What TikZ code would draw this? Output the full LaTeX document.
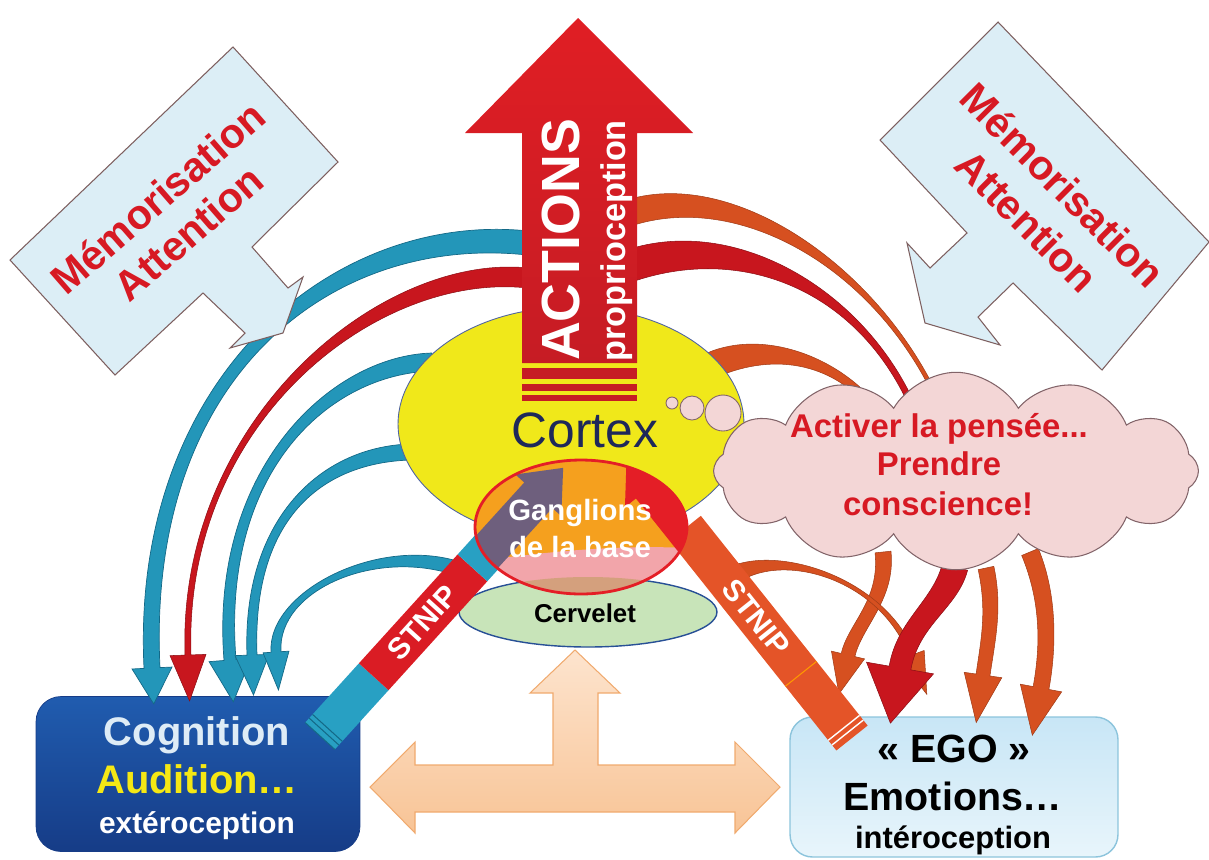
\documentclass[tikz,border=0pt]{standalone}
\usepackage{fontspec}
\setmainfont{Liberation Sans}
\usetikzlibrary{calc,shapes.geometric,shapes.symbols}

\definecolor{actred}{RGB}{224,30,36}
\definecolor{actdark}{RGB}{198,28,36}
\definecolor{cortexY}{RGB}{240,232,26}
\definecolor{cortexLine}{RGB}{80,100,160}
\definecolor{navyT}{RGB}{30,40,90}
\definecolor{gangOr}{RGB}{245,160,30}
\definecolor{gangRed}{RGB}{228,30,38}
\definecolor{purp}{RGB}{110,95,125}
\definecolor{pinkb}{RGB}{242,165,170}
\definecolor{brownb}{RGB}{212,160,125}
\definecolor{cerv}{RGB}{200,228,185}
\definecolor{cervLine}{RGB}{40,80,150}
\definecolor{tealF}{RGB}{35,150,185}
\definecolor{tealD}{RGB}{20,105,135}
\definecolor{arcRed}{RGB}{200,22,30}
\definecolor{arcOr}{RGB}{214,80,32}
\definecolor{stnipRed}{RGB}{218,28,36}
\definecolor{stnipOr}{RGB}{228,84,40}
\definecolor{stnipTeal}{RGB}{40,160,195}
\definecolor{cogTop}{RGB}{32,92,175}
\definecolor{cogBot}{RGB}{22,60,135}
\definecolor{audY}{RGB}{245,232,20}
\definecolor{cogW}{RGB}{222,236,246}
\definecolor{egoTop}{RGB}{200,230,246}
\definecolor{egoBot}{RGB}{232,245,251}
\definecolor{egoLine}{RGB}{140,196,220}
\definecolor{callF}{RGB}{220,238,246}
\definecolor{callL}{RGB}{125,95,95}
\definecolor{txtRed}{RGB}{215,25,35}
\definecolor{cloudF}{RGB}{243,214,214}
\definecolor{cloudL}{RGB}{130,100,105}
\definecolor{peachT}{RGB}{253,228,206}
\definecolor{peachB}{RGB}{248,196,150}
\definecolor{peachL}{RGB}{240,170,110}

\newcommand{\setfs}[1]{\fontsize{#1}{#1}\selectfont}

% tapered band set-up: S, C1, C2, E, width start (px), width end (px)
\newcommand{\tsetup}[6]{%
  \pgfmathsetmacro\twa{#5*0.01}%
  \pgfmathsetmacro\twb{#6*0.01}%
  \coordinate (tS) at #1;
  \coordinate (tA) at #2;
  \coordinate (tB) at #3;
  \coordinate (tE) at #4;
  \coordinate (tS1) at ($(tS)!\twa cm!90:(tA)$);
  \coordinate (tS2) at ($(tS)!\twa cm!-90:(tA)$);
  \coordinate (tE1) at ($(tE)!\twb cm!-90:(tB)$);
  \coordinate (tE2) at ($(tE)!\twb cm!90:(tB)$);
  \coordinate (tA1) at ($(tA)+(tS1)-(tS)$);
  \coordinate (tA2) at ($(tA)+(tS2)-(tS)$);
  \coordinate (tB1) at ($(tB)+(tE1)-(tE)$);
  \coordinate (tB2) at ($(tB)+(tE2)-(tE)$);
}
% style, S, C1, C2, E, w1, w2, head half width, head length
\newcommand{\tarrow}[9]{%
  \tsetup{#2}{#3}{#4}{#5}{#6}{#7}%
  \pgfmathsetmacro\thh{#8*0.02}%
  \pgfmathsetmacro\thl{#9*0.02}%
  \coordinate (tH1) at ($(tE)!\thh cm!-90:(tB)$);
  \coordinate (tH2) at ($(tE)!\thh cm!90:(tB)$);
  \coordinate (tT) at ($(tE)!-\thl cm!(tB)$);
  \path[#1] (tS1) .. controls (tA1) and (tB1) .. (tE1) -- (tH1) -- (tT) -- (tH2) -- (tE2) .. controls (tB2) and (tA2) .. (tS2) -- cycle;
}
% style, S, C1, C2, E, w1, w2
\newcommand{\tband}[7]{%
  \tsetup{#2}{#3}{#4}{#5}{#6}{#7}%
  \path[#1] (tS1) .. controls (tA1) and (tB1) .. (tE1) -- (tE2) .. controls (tB2) and (tA2) .. (tS2) -- cycle;
}

\tikzset{
  tealS/.style={fill=tealF, draw=tealD, line width=0.4pt},
  redS/.style={fill=arcRed, draw=arcRed!70!black, line width=0.3pt},
  orS/.style={fill=arcOr, draw=arcOr!75!black, line width=0.3pt},
  callout/.style={fill=callF, draw=callL, line width=0.6pt},
  calltextL/.style={font=\bfseries\fontsize{23.5}{26.6}\selectfont, align=center, text=txtRed},
  calltextR/.style={font=\bfseries\fontsize{23.5}{28.9}\selectfont, align=center, text=txtRed},
}

\begin{document}
\begin{tikzpicture}[x=0.02cm, y=-0.02cm, every node/.style={inner sep=0pt, outer sep=0pt}]
\useasboundingbox (0,0) rectangle (1209,859);

% ---------- boxes ----------
\node[rounded corners=0.5cm, top color=cogTop, bottom color=cogBot, draw=cogBot, line width=0.4pt,
      minimum width=6.48cm, minimum height=3.1cm] (cog) at (198,774) {};
\node[font=\bfseries\setfs{22.7}, text=cogW, anchor=base] (cogT1) at (197,745) {Cognition};
\node[font=\bfseries\setfs{22.7}, text=audY, anchor=base] (cogT2) at (197,793) {Audition…};
\node[font=\bfseries\setfs{17}, text=white, anchor=base] (cogT3) at (197,833) {extéroception};

\node[rounded corners=0.45cm, top color=egoTop, bottom color=egoBot, draw=egoLine, line width=0.8pt,
      minimum width=6.56cm, minimum height=2.8cm] (ego) at (954,787) {};
\node[font=\bfseries\setfs{22.4}, anchor=base] (egoT1) at (954,762) {« EGO »};
\node[font=\bfseries\setfs{22.4}, anchor=base] (egoT2) at (953,810) {Emotions…};
\node[font=\bfseries\setfs{17.6}, anchor=base] (egoT3) at (953,848) {intéroception};

% ---------- left curved arrows ----------
\tarrow{tealS}{(528,243)}{(330,222)}{(138,380)}{(152,668)}{24}{16}{20}{36}
\tarrow{redS}{(528,278)}{(380,262)}{(180,420)}{(188,655)}{20}{6}{18}{46}
\tarrow{tealS}{(432,362)}{(330,365)}{(215,470)}{(230,660)}{18}{12}{21}{42}
\tarrow{tealS}{(410,452)}{(320,455)}{(247,520)}{(252,655)}{16}{10}{17}{40}
\tarrow{tealS}{(462,570)}{(380,540)}{(272,590)}{(276,652)}{14}{10}{13}{38}

% ---------- right curved arrows ----------
\tband{orS}{(632,212)}{(740,180)}{(880,270)}{(940,405)}{26}{4}
\tband{redS}{(632,265)}{(740,230)}{(860,290)}{(912,405)}{32}{6}
\tband{orS}{(712,365)}{(770,340)}{(840,360)}{(880,415)}{26}{8}

\tarrow{orS}{(883,552)}{(888,600)}{(855,625)}{(848,655)}{16}{14}{17}{40}
\tarrow{orS}{(986,568)}{(995,610)}{(988,640)}{(983,675)}{16}{14}{19}{48}
\tarrow{orS}{(1030,552)}{(1050,600)}{(1048,650)}{(1041,688)}{18}{16}{21}{48}
\tarrow{orS}{(718,588)}{(755,540)}{(880,570)}{(912,655)}{20}{6}{13}{42}
\tarrow{redS}{(955,567)}{(945,605)}{(908,622)}{(900,668)}{26}{22}{34}{56}

% ---------- callouts ----------
\draw[callout] (233,47) -- (338,162) -- (252,247) -- (288,288) -- (303,277) -- (283,333)
  -- (230,348) -- (245,333) -- (203,293) -- (115,375) -- (10,260) -- cycle;
\node[calltextL, rotate=41] (memL) at (173,215) {Mémorisation\\Attention};

\draw[callout] (880,140) -- (998,22) -- (1209,242) -- (1102,370) -- (1013,283) -- (978,317)
  -- (1000,345) -- (925,323) -- (907,243) -- (930,268) -- (967,233) -- cycle;
\node[calltextR, rotate=-45] (memR) at (1045,203) {Mémorisation\\Attention};

% ---------- cortex ----------
\node[ellipse, draw=cortexLine, fill=cortexY, line width=0.5pt,
      minimum width=6.92cm, minimum height=4.68cm] (cortex) at (571,424) {};
\node[font=\setfs{28.3}, text=navyT] (cortexT) at (585,430) {Cortex};

% ---------- ACTIONS arrow ----------
\path[top color=actred, bottom color=actdark] (578,18) -- (693,133) -- (637,133) -- (637,363)
  -- (522,363) -- (522,133) -- (465,133) -- cycle;
\fill[actdark] (522,368) rectangle (637,379);
\fill[actdark] (522,384) rectangle (637,391);
\fill[actdark] (522,395) rectangle (637,401);
\node[font=\bfseries\setfs{30.6}, text=white, rotate=90] (actions) at (561,240) {ACTIONS};
\node[font=\bfseries\setfs{19.5}, text=white, rotate=90] (propr) at (617,241) {proprioception};

% ---------- cervelet ----------
\node[ellipse, draw=cervLine, fill=cerv, line width=0.8pt,
      minimum width=5.16cm, minimum height=1.4cm] (cerv) at (588,612) {};
\node[font=\bfseries\setfs{14.7}, anchor=base] (cervT) at (585,622) {Cervelet};

% ---------- STNIP bands ----------
\begin{scope}[shift={(320,736)}, rotate=47.8]
  \fill[stnipTeal] (0,-20) rectangle (80,20);
  \draw[tealD, line width=0.6pt] (0,-20) -- (0,20) (6,-20) -- (6,20) (11,-20) -- (11,20);
  \fill[stnipRed] (80,-20) rectangle (227,20);
  \fill[stnipTeal] (227,-20) rectangle (275,20);
  \node[font=\bfseries\setfs{17}, text=white, rotate=47.8] (stnipL) at (153,0) {STNIP};
\end{scope}
\begin{scope}[shift={(852,738)}, rotate=128.5]
  \fill[stnipOr] (0,-20) rectangle (268,20);
  \draw[white, line width=0.8pt] (7,-20) -- (7,20) (13,-20) -- (13,20);
  \draw[orange!80!yellow, line width=0.6pt] (82,-20) -- (82,20);
  \node[font=\bfseries\setfs{17}, text=white, rotate=-51.5] (stnipR) at (154,0) {STNIP};
\end{scope}

% ---------- ganglions ----------
\begin{scope}
  \clip (581,527) ellipse [x radius=2.12cm, y radius=1.34cm];
  \fill[gangOr] (470,455) rectangle (690,600);
  \fill[pinkb] (470,562) .. controls (560,550) and (620,545) .. (690,548) -- (690,600) -- (470,600) -- cycle;
  \fill[brownb] (588,612) ellipse [x radius=2.58cm, y radius=0.7cm];
  \begin{scope}[shift={(320,736)}, rotate=47.8]
    \fill[purp] (240,-19) -- (325,-19) -- (325,-31) -- (362,0) -- (325,31) -- (325,19) -- (240,19) -- cycle;
  \end{scope}
  \begin{scope}[shift={(852,738)}, rotate=128.5]
    \fill[gangRed] (240,-20) -- (322,-20) -- (322,-34) -- (362,0) -- (322,34) -- (322,20) -- (240,20) -- cycle;
  \end{scope}
\end{scope}
\node[ellipse, draw=gangRed, line width=1.6pt, minimum width=4.24cm, minimum height=2.68cm] (gang) at (581,527) {};
\node[font=\bfseries\setfs{16.7}, text=white, anchor=base] (gangT1) at (580,520) {Ganglions};
\node[font=\bfseries\setfs{16.7}, text=white, anchor=base] (gangT2) at (580,557) {de la base};

% ---------- cloud ----------
\node[cloud, cloud puffs=12, cloud puff arc=120, aspect=2.4, draw=cloudL, fill=cloudF, line width=0.6pt,
      minimum width=9.7cm, minimum height=3.95cm] (cloud) at (956,471) {};
\node[circle, draw=cloudL, fill=cloudF, line width=0.5pt, minimum size=0.24cm] (b1) at (672,403) {};
\node[circle, draw=cloudL, fill=cloudF, line width=0.5pt, minimum size=0.48cm] (b2) at (692,408) {};
\node[circle, draw=cloudL, fill=cloudF, line width=0.5pt, minimum size=0.72cm] (b3) at (723,413) {};
\node[font=\bfseries\setfs{18.7}, text=txtRed, anchor=base] (clT1) at (939,437) {Activer la pensée...};
\node[font=\bfseries\setfs{18.7}, text=txtRed, anchor=base] (clT2) at (939,475) {Prendre};
\node[font=\bfseries\setfs{18.7}, text=txtRed, anchor=base] (clT3) at (938,515) {conscience!};

% ---------- double arrow ----------
\path[top color=peachT, bottom color=peachB] (370,787) -- (415,742) -- (415,765) -- (553,765)
  -- (553,693) -- (530,693) -- (575,650) -- (620,693) -- (598,693) -- (598,765) -- (735,765)
  -- (735,742) -- (780,787) -- (735,833) -- (735,812) -- (415,812) -- (415,833) -- cycle;
\draw[peachL, line width=0.6pt] (370,787) -- (415,742) -- (415,765) -- (553,765)
  -- (553,693) -- (530,693) -- (575,650) -- (620,693) -- (598,693) -- (598,765) -- (735,765)
  -- (735,742) -- (780,787) -- (735,833) -- (735,812) -- (415,812) -- (415,833) -- cycle;

\end{tikzpicture}
\end{document}
